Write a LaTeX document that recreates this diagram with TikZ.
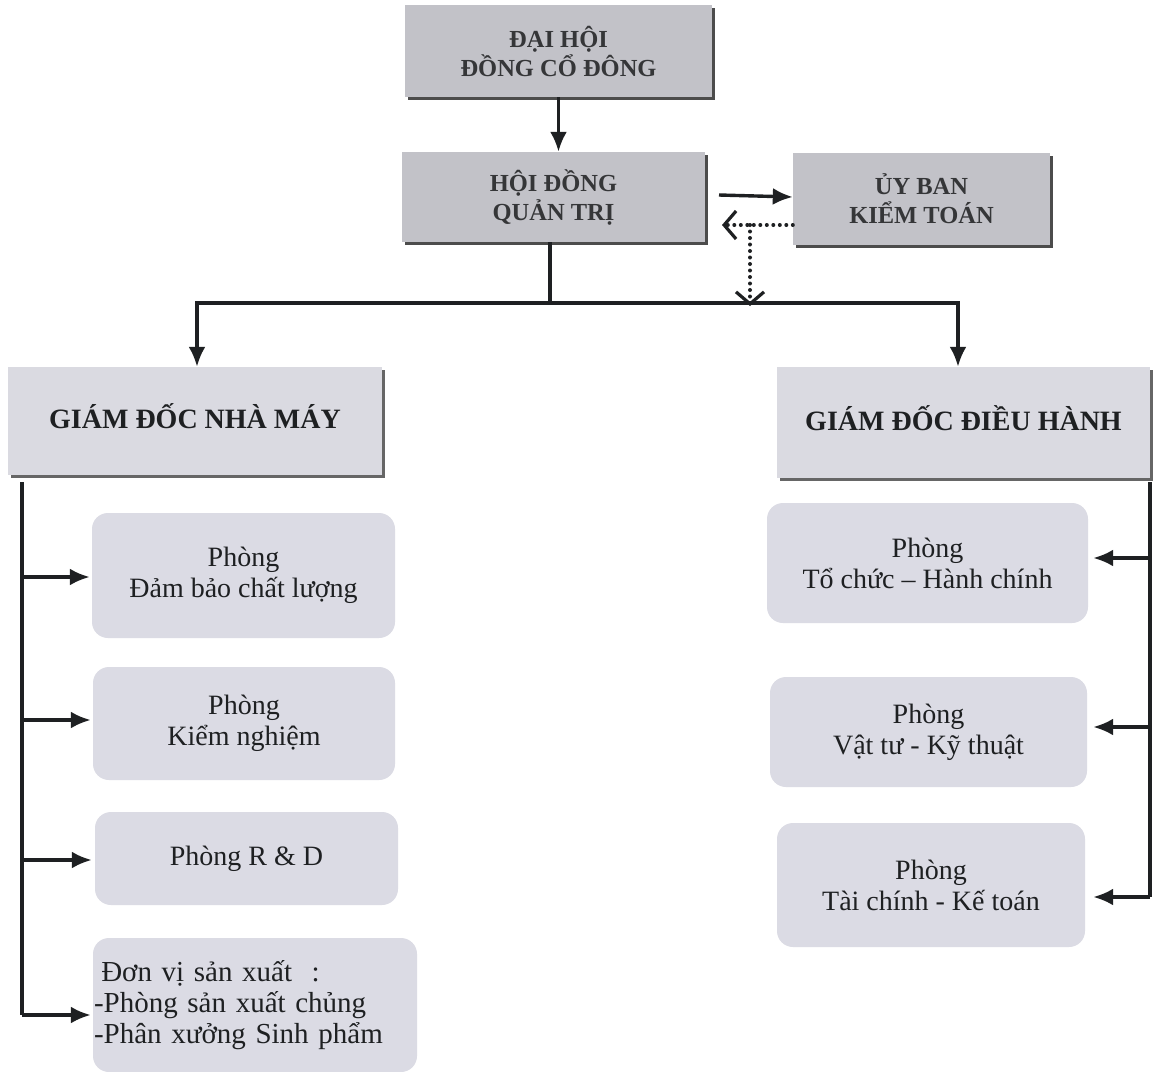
\documentclass[tikz,border=0pt]{standalone}
\usepackage{fontspec}
\setmainfont{Liberation Serif}
\usetikzlibrary{arrows.meta,shadows}
\definecolor{topgrey}{RGB}{194,194,200}
\definecolor{gdgrey}{RGB}{218,218,225}
\definecolor{roomgrey}{RGB}{219,219,228}
\definecolor{ink}{RGB}{30,32,34}
\begin{document}
\begin{tikzpicture}[x=1pt,y=-1pt,
  topbox/.style={draw=none, fill=topgrey, inner sep=0pt, align=center,
    font=\bfseries\fontsize{24.5}{29}\selectfont, text=ink!90,
    drop shadow={shadow xshift=2.5pt, shadow yshift=-3pt, fill=black!70, opacity=1}},
  gdbox/.style={draw=none, fill=gdgrey, inner sep=0pt, align=center,
    font=\bfseries\fontsize{28}{32}\selectfont, text=ink,
    drop shadow={shadow xshift=2.5pt, shadow yshift=-3pt, fill=black!60, opacity=1}},
  room/.style={draw=none, fill=roomgrey, rounded corners=16pt, inner sep=0pt, align=center,
    font=\fontsize{28}{31}\selectfont, text=ink},
  conn/.style={line width=3.4pt, draw=ink, -{Latex[length=20pt,width=17pt]}},
  plain/.style={line width=3.4pt, draw=ink},
  dotconn/.style={line width=4pt, draw=ink, line cap=round, dash pattern=on 0pt off 6.5pt,
    -{Straight Barb[length=12pt,width=28pt,line width=3.2pt]}}
]
\useasboundingbox (0,0) rectangle (1153,1071);
\fill[white] (0,0) rectangle (1153,1071);

% top level
\node[topbox, minimum width=307pt, minimum height=92pt] (dh) at (558.5,51) {ĐẠI HỘI\\ĐỒNG CỔ ĐÔNG};
\node[topbox, minimum width=303pt, minimum height=90pt] (hd) at (553.5,197) {HỘI ĐỒNG\\QUẢN TRỊ};
\node[topbox, minimum width=257pt, minimum height=92pt] (ub) at (921.5,199) {ỦY BAN\\KIỂM TOÁN};

% directors
\node[gdbox, minimum width=374pt, minimum height=108pt] (gdnm) at (195,421) {\raisebox{9pt}{GIÁM ĐỐC NHÀ MÁY}};
\node[gdbox, minimum width=373pt, minimum height=111pt] (gddh) at (963.5,422.5) {\raisebox{9pt}{GIÁM ĐỐC ĐIỀU HÀNH}};

% left rooms
\node[room, minimum width=303pt, minimum height=125pt] (p1) at (243.5,575.5) {Phòng\\Đảm bảo chất lượng};
\node[room, minimum width=302pt, minimum height=113pt] (p2) at (244,723.5) {Phòng\\Kiểm nghiệm};
\node[room, minimum width=303pt, minimum height=93pt] (p3) at (246.5,858.5) {Phòng R \& D};
\node[room, minimum width=324pt, minimum height=134pt, align=left, text width=322pt,
  font=\fontsize{29}{31}\selectfont] (p4) at (255,1005)
  {\hspace{0.25em}Đơn vị sản xuất\ \ :\\-Phòng sản xuất chủng\\-Phân xưởng Sinh phẩm};

% right rooms
\node[room, minimum width=321pt, minimum height=120pt] (r1) at (927.5,563) {Phòng\\Tổ chức – Hành chính};
\node[room, minimum width=317pt, minimum height=110pt] (r2) at (928.5,732) {Phòng\\Vật tư - Kỹ thuật};
\node[room, minimum width=308pt, minimum height=124pt] (r3) at (931,885) {Phòng\\Tài chính - Kế toán};

% coordinates
\coordinate (bus) at (553.5,303);
\coordinate (busL) at (197,303);
\coordinate (busR) at (958,303);
\coordinate (dotc) at (750,225);
\coordinate (dotb) at (750,303);
\coordinate (lt) at (22,482);
\coordinate (la1) at (22,577);
\coordinate (la2) at (22,720);
\coordinate (la3) at (22,860);
\coordinate (la4) at (22,1015);
\coordinate (rt) at (1150,482);
\coordinate (ra1) at (1150,558);
\coordinate (ra2) at (1150,727);
\coordinate (ra3) at (1150,897);

% connectors top
\draw[conn] (dh.south) -- (hd.north -| dh.south);
\draw[plain] (hd.south -| 550,0) -- (bus -| 550,0);
\draw[conn] ([yshift=2pt]hd.east -| 719,0) -- ([yshift=2pt]ub.west);
\draw[dotconn] (ub.west |- dotc) -- (722,225);
\draw[dotconn] (dotc) -- ([yshift=-3pt]dotb);
\draw[plain, line cap=rect] (busL) -- (busR);
\draw[conn] (busL) -- (gdnm.north -| busL);
\draw[conn] (busR) -- (gddh.north -| busR);

% left trunk
\draw[plain] (lt) -- (la4);
\draw[conn] (la1) -- ([xshift=-2pt]la1 -| p1.west);
\draw[conn] (la2) -- ([xshift=-2pt]la2 -| p2.west);
\draw[conn] (la3) -- ([xshift=-3pt]la3 -| p3.west);
\draw[conn] (la4) -- ([xshift=-2pt]la4 -| p4.west);

% right trunk
\draw[plain] (rt) -- (ra3);
\draw[conn] (ra1) -- ([xshift=5pt]ra1 -| r1.east);
\draw[conn] (ra2) -- ([xshift=6pt]ra2 -| r2.east);
\draw[conn] (ra3) -- ([xshift=8pt]ra3 -| r3.east);
\end{tikzpicture}
\end{document}
